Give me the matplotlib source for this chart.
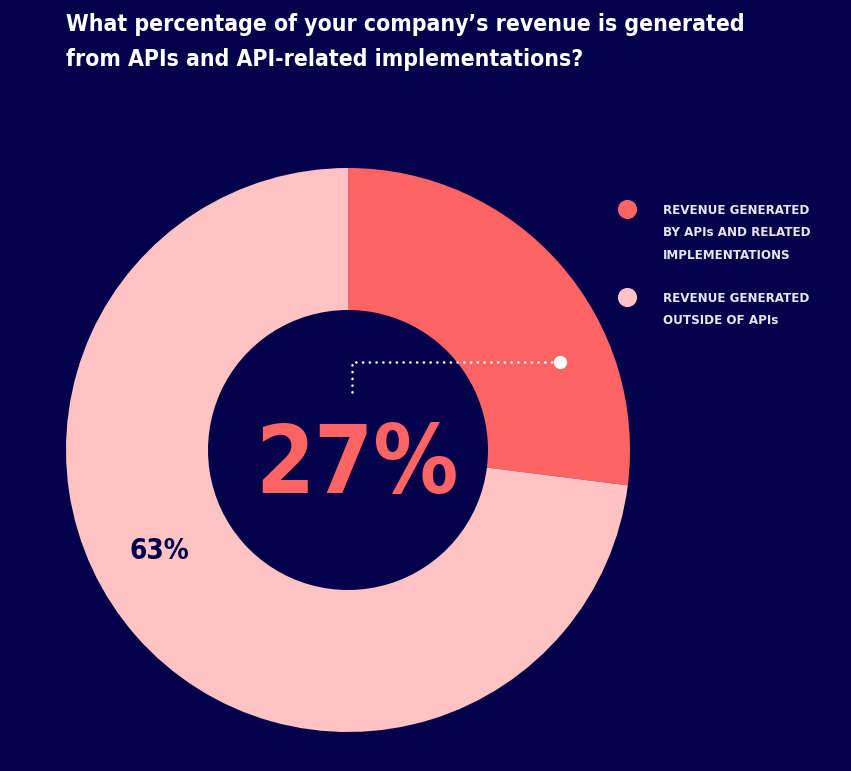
import matplotlib.pyplot as plt

# data
shares = [27, 73]
share_labels = ["27%", "63%"]
legend_labels = ["REVENUE GENERATED\nBY APIs AND RELATED\nIMPLEMENTATIONS",
                 "REVENUE GENERATED\nOUTSIDE OF APIs"]
colors = ["#FF6464", "#FFC3C3"]
bg = "#03024A"

plt.rcParams['font.family'] = ['DejaVu Sans']
plt.rcParams['font.stretch'] = 'condensed'

W, H = 851, 771
fig = plt.figure(figsize=(W / 100, H / 100), dpi=100, facecolor=bg)
ax = fig.add_axes([0, 0, 1, 1])
ax.set_facecolor(bg)

cx, cy = 348, H - 450
ax.pie(shares, colors=colors, startangle=90, counterclock=False,
       center=(cx, cy), radius=282, frame=True,
       wedgeprops=dict(width=142, linewidth=0))
ax.set_xlim(0, W)
ax.set_ylim(0, H)
ax.set_aspect('equal')
ax.axis('off')

# title (two lines, placed by baseline)
title_lines = ["What percentage of your company\u2019s revenue is generated",
               "from APIs and API-related implementations?"]
for k, line in enumerate(title_lines):
    ax.text(66, H - 31 - 35 * k, line, color="white", fontsize=16.5,
            fontweight='bold', va='baseline', ha='left')

# big center value
ax.text(357, H - 493, share_labels[0], color=colors[0], fontsize=68,
        fontweight='bold', ha='center', va='baseline')
# outer value
ax.text(159, H - 559, share_labels[1], color=bg, fontsize=20,
        fontweight='bold', ha='center', va='baseline')

# dotted leader
ax.plot([352, 352, 552], [H - 392, H - 362, H - 362], color="white",
        linestyle=(0, (0.1, 2.6)), linewidth=1.8, dash_capstyle='round')
ax.scatter([560], [H - 362], s=90, color="white", zorder=5, linewidths=0)

# legend
leg_y = [209, 297]
for yy, col, lab in zip(leg_y, colors, legend_labels):
    ax.scatter([627], [H - yy], s=190, color=col, zorder=5, linewidths=0)
    for k, line in enumerate(lab.split("\n")):
        ax.text(663, H - yy - 5 - 22.5 * k, line, color="#E6E6EE", fontsize=9.5,
                fontweight='bold', va='baseline', ha='left')

fig.savefig("out.png", dpi=100, facecolor=bg)
